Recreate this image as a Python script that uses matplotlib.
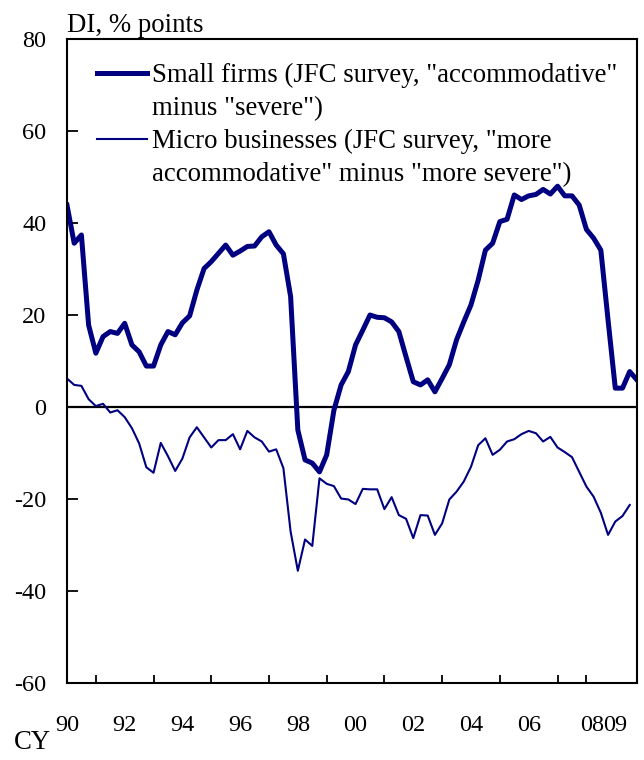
import matplotlib
matplotlib.use('Agg')
import matplotlib.pyplot as plt
from matplotlib.lines import Line2D
import numpy as np

plt.rcParams['font.family'] = ['Liberation Serif', 'DejaVu Serif']
plt.rcParams['axes.unicode_minus'] = False

# quarterly, 1990 Q1 onward
small_firms = [43.9, 35.6, 37.4, 17.8, 11.7, 15.3, 16.4, 16.0, 18.2, 13.5,
               12.0, 8.9, 8.9, 13.5, 16.4, 15.7, 18.3, 19.8, 25.4, 30.1,
               31.6, 33.4, 35.2, 33.0, 33.9, 34.9, 35.0, 37.0, 38.1, 35.2,
               33.3, 24.0, -5.0, -11.5, -12.2, -14.1, -10.4, -0.7, 4.8, 7.7,
               13.5, 16.7, 20.0, 19.5, 19.4, 18.5, 16.4, 10.9, 5.5, 4.8,
               5.9, 3.3, 6.2, 9.2, 14.6, 18.5, 22.2, 27.6, 34.1, 35.6,
               40.3, 40.8, 46.1, 45.1, 45.9, 46.2, 47.3, 46.3, 48.0, 45.9,
               45.9, 43.9, 38.6, 36.7, 34.1, 18.9, 4.1, 4.1, 7.7, 5.9]
micro = [6.2, 4.8, 4.6, 1.7, 0.2, 0.7, -1.2, -0.7, -2.2, -4.6,
         -7.9, -13.1, -14.3, -7.8, -10.7, -13.9, -11.2, -6.6, -4.4, -6.6,
         -8.8, -7.2, -7.2, -5.9, -9.2, -5.2, -6.6, -7.5, -9.7, -9.2,
         -13.3, -27.1, -35.6, -28.8, -30.2, -15.5, -16.7, -17.2, -19.9, -20.1,
         -21.1, -17.8, -17.9, -17.9, -22.2, -19.6, -23.5, -24.3, -28.5, -23.5,
         -23.6, -27.8, -25.3, -20.1, -18.4, -16.2, -13.0, -8.3, -6.8, -10.4,
         -9.3, -7.5, -7.0, -5.9, -5.2, -5.7, -7.5, -6.5, -8.8, -9.8,
         -10.9, -14.1, -17.3, -19.5, -23.0, -27.8, -24.9, -23.7, -21.3, np.nan]

t = 1990 + np.arange(len(small_firms)) / 4.0
year_labels = ['90', '92', '94', '96', '98', '00', '02', '04', '06', '08', '09']
label_years = [1990, 1992, 1994, 1996, 1998, 2000, 2002, 2004, 2006, 2008.2, 2009]

fig = plt.figure(figsize=(6.44, 7.6), dpi=100)
ax = fig.add_axes([0.104, 0.1013, 0.885, 0.8474])

navy = '#000080'
ax.axhline(0, color='black', lw=1.6, zorder=1)
l1, = ax.plot(t, small_firms, color=navy, lw=3.6)
l2, = ax.plot(t, micro, color=navy, lw=1.5)

ax.set_xlim(1990, 1990 + (len(small_firms) - 1) / 4.0)
ax.set_ylim(-60, 80)
ax.set_yticks(np.arange(-60, 81, 20))
ax.set_xticks(np.arange(1991, 2010), minor=True)
ax.set_xticks(label_years)
ax.set_xticklabels(year_labels)
ax.tick_params(axis='x', which='major', length=0, pad=23, labelsize=17.5)
ax.tick_params(axis='x', which='minor', direction='in', length=6, width=1.3)
ax.tick_params(axis='y', direction='in', length=8, width=1.3, labelsize=17.5, pad=15)
for s in ax.spines.values():
    s.set_linewidth(1.5)

blank = Line2D([], [], color='none')
handles = [l1, blank, l2, blank]
labels = ['Small firms (JFC survey, "accommodative"', 'minus "severe")',
          'Micro businesses (JFC survey, "more',
          'accommodative" minus "more severe")']
ax.legend(handles, labels, loc='upper left', bbox_to_anchor=(0.053, 0.963),
          frameon=False, fontsize=19.3, handlelength=1.85, handletextpad=0.2,
          labelspacing=0.3, borderaxespad=0, borderpad=0)

fig.text(0.104, 0.967, 'DI, % points', fontsize=19.3, ha='left', va='center')
fig.text(0.022, 0.006, 'CY', fontsize=19.3, ha='left', va='bottom')

fig.savefig('out.png', dpi=100)
